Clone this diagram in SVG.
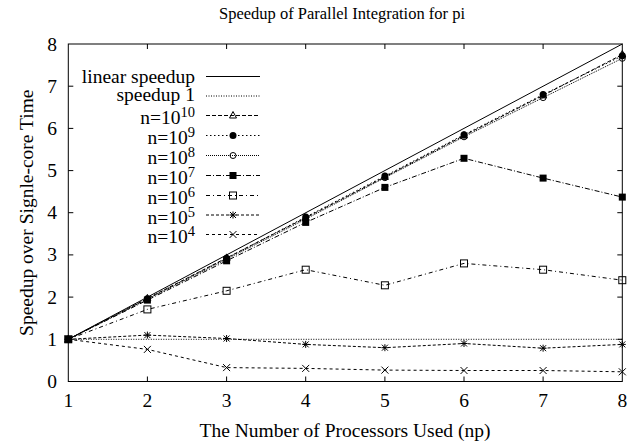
<svg xmlns="http://www.w3.org/2000/svg" width="636" height="442" viewBox="0 0 636 442">
<style>
text{font-family:"Liberation Serif","Times New Roman",serif;font-size:19.5px;fill:#000}
.title{font-size:16.5px}
.ln{fill:none;stroke:#000;stroke-width:1}
.ax{fill:none;stroke:#000;stroke-width:1}
.sp1{stroke-dasharray:1 1.5}
.d10{stroke-dasharray:4 2}
.d9{stroke-dasharray:1.5 2.5}
.d8{stroke-dasharray:1 1}
.d7{stroke-dasharray:5 2 1 2}
.d6{stroke-dasharray:4 3 1 3}
.d5{stroke-dasharray:3 2}
.d4{stroke-dasharray:3 3}
.sup{font-size:14.5px}
</style>
<defs>
<path id="tri" d="M0,-4 L3.5,2.5 L-3.5,2.5 Z" fill="none" stroke="#000"/>
<circle id="dot" r="3.5" fill="#000"/>
<circle id="circ" r="3" fill="none" stroke="#000"/>
<rect id="fsq" x="-3.5" y="-3.5" width="7" height="7" fill="#000"/>
<rect id="osq" x="-3.5" y="-3.5" width="7" height="7" fill="none" stroke="#000"/>
<path id="star" d="M-3.5,0H3.5M0,-3.5V3.5M-3,-3L3,3M-3,3L3,-3" stroke="#000" fill="none"/>
<path id="cross" d="M-3.5,-3.5L3.5,3.5M-3.5,3.5L3.5,-3.5" stroke="#000" fill="none"/>
</defs>
<text class="title" x="342" y="19" text-anchor="middle">Speedup of Parallel Integration for pi</text>
<g id="axes">
<rect class="ax" x="68.3" y="44" width="554" height="337.5"/>
<path class="ax" d="M68.3,339.3h5M68.3,297.1h5M68.3,254.9h5M68.3,212.7h5M68.3,170.6h5M68.3,128.4h5M68.3,86.2h5M622.3,339.3h-5M622.3,297.1h-5M622.3,254.9h-5M622.3,212.7h-5M622.3,170.6h-5M622.3,128.4h-5M622.3,86.2h-5M147.4,381.5v-5M226.6,381.5v-5M305.7,381.5v-5M384.9,381.5v-5M464,381.5v-5M543.1,381.5v-5M147.4,44v5M226.6,44v5M305.7,44v5M384.9,44v5M464,44v5M543.1,44v5"/>
<g text-anchor="end">
<text x="57" y="388">0</text>
<text x="57" y="345.8">1</text>
<text x="57" y="303.6">2</text>
<text x="57" y="261.4">3</text>
<text x="57" y="219.2">4</text>
<text x="57" y="177.1">5</text>
<text x="57" y="134.9">6</text>
<text x="57" y="92.7">7</text>
<text x="57" y="50.5">8</text>
</g>
<g text-anchor="middle">
<text x="68.3" y="406.5">1</text>
<text x="147.4" y="406.5">2</text>
<text x="226.6" y="406.5">3</text>
<text x="305.7" y="406.5">4</text>
<text x="384.9" y="406.5">5</text>
<text x="464" y="406.5">6</text>
<text x="543.1" y="406.5">7</text>
<text x="622.3" y="406.5">8</text>
</g>
<text x="345" y="436.5" text-anchor="middle">The Number of Processors Used (np)</text>
<text transform="translate(33,212.7) rotate(-90)" text-anchor="middle">Speedup over Signle-core Time</text>
</g>
<g id="connectors">
<path class="ln" d="M68.3,339.3L622.3,44"/>
<path class="ln sp1" d="M68.3,339.3H622.3"/>
<path class="ln d10" d="M68.3,339.3L147.4,298.4L226.6,257.9L305.7,217.8L384.9,176.9L464,135.5L543.1,95.4L622.3,54.5"/>
<path class="ln d9" d="M68.3,339.3L147.4,298.8L226.6,258.3L305.7,217L384.9,176L464,134.7L543.1,94.6L622.3,55.8"/>
<path class="ln d8" d="M68.3,339.3L147.4,299.2L226.6,259.2L305.7,219.1L384.9,177.7L464,136.8L543.1,97.6L622.3,58.3"/>
<path class="ln d7" d="M68.3,339.3L147.4,300.1L226.6,260.8L305.7,222.4L384.9,187.4L464,158.3L543.1,178.1L622.3,197.1"/>
<path class="ln d6" d="M68.3,339.3L147.4,309.4L226.6,290.8L305.7,269.7L384.9,285.3L464,263.4L543.1,269.7L622.3,280.2"/>
<path class="ln d5" d="M68.3,339.3L147.4,335.1L226.6,338.5L305.7,344.4L384.9,347.7L464,343.5L543.1,348.2L622.3,344.4"/>
<path class="ln d4" d="M68.3,339.3L147.4,349.4L226.6,367.6L305.7,368.4L384.9,370.1L464,370.5L543.1,370.5L622.3,371.8"/>
</g>
<g id="points">
<g id="p10">
<use href="#tri" x="68.3" y="339.3"/><use href="#tri" x="147.4" y="298.4"/><use href="#tri" x="226.6" y="257.9"/><use href="#tri" x="305.7" y="217.8"/><use href="#tri" x="384.9" y="176.9"/><use href="#tri" x="464" y="135.5"/><use href="#tri" x="543.1" y="95.4"/><use href="#tri" x="622.3" y="54.5"/>
</g>
<g id="p9">
<use href="#dot" x="68.3" y="339.3"/><use href="#dot" x="147.4" y="298.8"/><use href="#dot" x="226.6" y="258.3"/><use href="#dot" x="305.7" y="217"/><use href="#dot" x="384.9" y="176"/><use href="#dot" x="464" y="134.7"/><use href="#dot" x="543.1" y="94.6"/><use href="#dot" x="622.3" y="55.8"/>
</g>
<g id="p8">
<use href="#circ" x="68.3" y="339.3"/><use href="#circ" x="147.4" y="299.2"/><use href="#circ" x="226.6" y="259.2"/><use href="#circ" x="305.7" y="219.1"/><use href="#circ" x="384.9" y="177.7"/><use href="#circ" x="464" y="136.8"/><use href="#circ" x="543.1" y="97.6"/><use href="#circ" x="622.3" y="58.3"/>
</g>
<g id="p7">
<use href="#fsq" x="68.3" y="339.3"/><use href="#fsq" x="147.4" y="300.1"/><use href="#fsq" x="226.6" y="260.8"/><use href="#fsq" x="305.7" y="222.4"/><use href="#fsq" x="384.9" y="187.4"/><use href="#fsq" x="464" y="158.3"/><use href="#fsq" x="543.1" y="178.1"/><use href="#fsq" x="622.3" y="197.1"/>
</g>
<g id="p6">
<use href="#osq" x="68.3" y="339.3"/><use href="#osq" x="147.4" y="309.4"/><use href="#osq" x="226.6" y="290.8"/><use href="#osq" x="305.7" y="269.7"/><use href="#osq" x="384.9" y="285.3"/><use href="#osq" x="464" y="263.4"/><use href="#osq" x="543.1" y="269.7"/><use href="#osq" x="622.3" y="280.2"/>
</g>
<g id="p5">
<use href="#star" x="68.3" y="339.3"/><use href="#star" x="147.4" y="335.1"/><use href="#star" x="226.6" y="338.5"/><use href="#star" x="305.7" y="344.4"/><use href="#star" x="384.9" y="347.7"/><use href="#star" x="464" y="343.5"/><use href="#star" x="543.1" y="348.2"/><use href="#star" x="622.3" y="344.4"/>
</g>
<g id="p4">
<use href="#cross" x="68.3" y="339.3"/><use href="#cross" x="147.4" y="349.4"/><use href="#cross" x="226.6" y="367.6"/><use href="#cross" x="305.7" y="368.4"/><use href="#cross" x="384.9" y="370.1"/><use href="#cross" x="464" y="370.5"/><use href="#cross" x="543.1" y="370.5"/><use href="#cross" x="622.3" y="371.8"/>
</g>
</g>
<g id="legend">
<g text-anchor="end">
<text x="195" y="82.5">linear speedup</text>
<text x="195" y="101">speedup 1</text>
<text x="195" y="124">n=10<tspan class="sup" dy="-7">10</tspan></text>
<text x="195" y="144">n=10<tspan class="sup" dy="-7">9</tspan></text>
<text x="195" y="164">n=10<tspan class="sup" dy="-7">8</tspan></text>
<text x="195" y="184">n=10<tspan class="sup" dy="-7">7</tspan></text>
<text x="195" y="204">n=10<tspan class="sup" dy="-7">6</tspan></text>
<text x="195" y="223.5">n=10<tspan class="sup" dy="-7">5</tspan></text>
<text x="195" y="243">n=10<tspan class="sup" dy="-7">4</tspan></text>
</g>
<path class="ln" d="M206,76.5H260"/>
<path class="ln sp1" d="M206,96H260"/>
<path class="ln d10" d="M206,115.5H260"/><use href="#tri" x="233" y="115.5"/>
<path class="ln d9" d="M206,135.5H260"/><use href="#dot" x="233" y="135.5"/>
<path class="ln d8" d="M206,155.5H260"/><use href="#circ" x="233" y="155.5"/>
<path class="ln d7" d="M206,175.5H260"/><use href="#fsq" x="233" y="175.5"/>
<path class="ln d6" d="M206,195.5H260"/><use href="#osq" x="233" y="195.5"/>
<path class="ln d5" d="M206,215H260"/><use href="#star" x="233" y="215"/>
<path class="ln d4" d="M206,234.5H260"/><use href="#cross" x="233" y="234.5"/>
</g>
</svg>
